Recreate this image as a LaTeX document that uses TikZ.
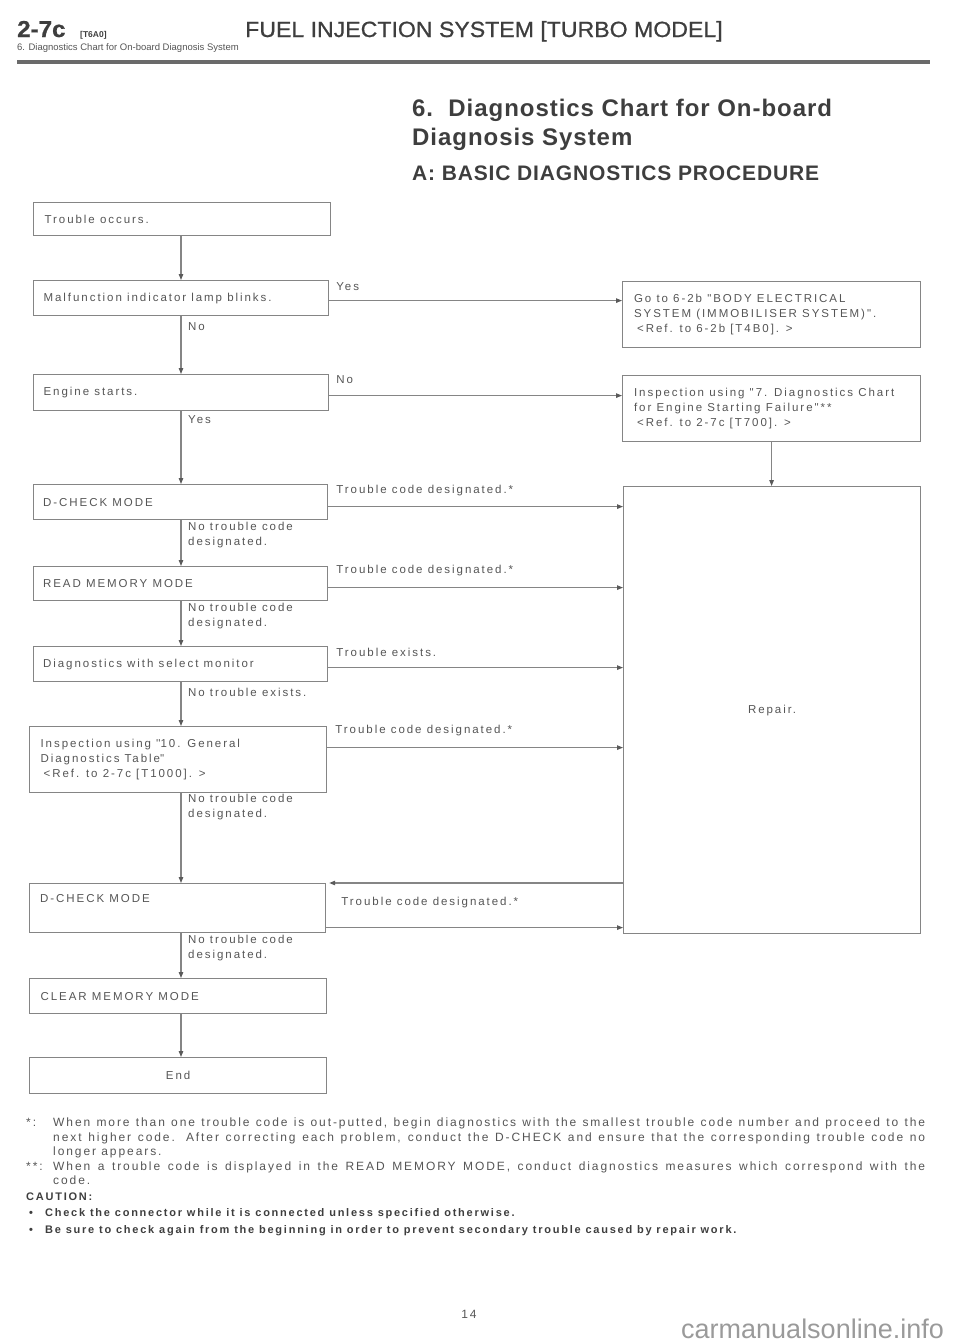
\documentclass[tikz,border=0pt]{standalone}
\usepackage{fontspec}
\setmainfont{Liberation Sans}
\newfontfamily\bxf[LetterSpace=17]{Liberation Sans}
\newfontfamily\fnf[LetterSpace=16]{Liberation Sans}
\newfontfamily\bxbf[LetterSpace=16]{Liberation Sans}
\newfontfamily\hdf[LetterSpace=4]{Liberation Sans}
\newfontfamily\ttlf[FakeStretch=1.05,FakeBold=0.8]{Liberation Sans}
\usetikzlibrary{arrows.meta}
\definecolor{ink}{HTML}{555555}
\definecolor{inkdark}{HTML}{3E3E3E}
\definecolor{wire}{HTML}{858585}
\definecolor{tipc}{HTML}{5A5A5A}
\definecolor{mark}{HTML}{9A9A9A}
\newcommand{\bl}[1]{\makebox[275pt][l]{#1}}
\begin{document}
\begin{tikzpicture}[x=1pt,y=-1pt,
  box/.style={draw=wire, line width=1.2pt, rectangle, anchor=north west,
    inner xsep=0pt, inner ysep=0pt, align=left, text=ink,
    font=\bxf\fontsize{11.5}{15}\selectfont},
  lbl/.style={text=ink, font=\bxf\fontsize{11.5}{15}\selectfont,
    inner sep=0pt, anchor=west, align=left},
  fn/.style={text=ink, font=\fnf\fontsize{12}{15}\selectfont,
    inner sep=0pt, anchor=base west},
  fnb/.style={text=inkdark, font=\bxbf\bfseries\fontsize{11}{15}\selectfont,
    inner sep=0pt, anchor=base west},
  arr/.style={draw=wire, line width=1.1pt,
    -{Triangle[length=6pt,width=4.5pt,color=tipc]}},
  head/.style={text=inkdark, inner sep=0pt, anchor=base west}]
\useasboundingbox (0,0) rectangle (960,1344);

% header
\node[head, font=\ttlf\bfseries\fontsize{23}{26}\selectfont] (sec) at (17,37) {2-7c};
\node[head, font=\bfseries\fontsize{8.5}{10}\selectfont] (code) at (80,37) {[T6A0]};
\node[head, font=\ttlf\fontsize{22}{26}\selectfont] (ttl) at (245,37) {FUEL INJECTION SYSTEM [TURBO MODEL]};
\node[head, font=\fontsize{9.5}{11}\selectfont, text=ink] (sub) at (17,50) {6. Diagnostics Chart for On-board Diagnosis System};
\fill[wire!80!black] (17,60) rectangle (930,64);

% heading
\node[head, font=\hdf\bfseries\fontsize{24}{28}\selectfont] (h1) at (412,116) {6.\ \ Diagnostics Chart for On-board};
\node[head, font=\hdf\bfseries\fontsize{24}{28}\selectfont] (h2) at (412,145) {Diagnosis System};
\node[head, font=\hdf\bfseries\fontsize{21}{24}\selectfont] (h3) at (412,180) {A: BASIC DIAGNOSTICS PROCEDURE};

% left column
\node[box, minimum width=297pt, minimum height=33pt] (n1) at (33,202) {\bl{Trouble occurs.}};
\node[box, minimum width=295pt, minimum height=35pt] (n2) at (33,280) {\bl{Malfunction indicator lamp blinks.}};
\node[box, minimum width=295pt, minimum height=36pt] (n3) at (33,374) {\bl{Engine starts.}};
\node[box, minimum width=294pt, minimum height=35pt] (n4) at (33,484) {\bl{D-CHECK MODE}};
\node[box, minimum width=294pt, minimum height=34pt] (n5) at (33,566) {\bl{READ MEMORY MODE}};
\node[box, minimum width=294pt, minimum height=35pt] (n6) at (33,646) {\bl{Diagnostics with select monitor}};
\node[box, minimum width=297pt, minimum height=66pt] (n7) at (29,726) {\bl{Inspection using \textquotesingle\textquotesingle10. General}\\\bl{Diagnostics Table\textquotesingle\textquotesingle}\\\bl{\hspace*{3pt}<Ref. to 2-7c [T1000]. >}};
\node[box, minimum width=296pt, minimum height=49pt] (n8) at (29,883) {\bl{D-CHECK MODE}\\\bl{\strut}};
\node[box, minimum width=297pt, minimum height=35pt] (n9) at (29,978) {\bl{CLEAR MEMORY MODE}};
\node[box, minimum width=297pt, minimum height=36pt, align=center] (n10) at (29,1057) {End};

% right column
\node[box, minimum width=298pt, minimum height=66pt] (r1) at (622,281) {\bl{Go to 6-2b "BODY ELECTRICAL}\\\bl{SYSTEM (IMMOBILISER SYSTEM)".}\\\bl{\hspace*{3pt}<Ref. to 6-2b [T4B0]. >}};
\node[box, minimum width=298pt, minimum height=66pt] (r2) at (622,375) {\bl{Inspection using "7. Diagnostics Chart}\\\bl{for Engine Starting Failure"**}\\\bl{\hspace*{3pt}<Ref. to 2-7c [T700]. >}};
\node[box, minimum width=297pt, minimum height=447pt, align=center] (r3) at (623,486) {Repair.};

% spine
\coordinate (sp) at (181,0);
\draw[arr] (n1.south -| sp) -- (n2.north -| sp);
\draw[arr] (n2.south -| sp) -- (n3.north -| sp);
\draw[arr] (n3.south -| sp) -- (n4.north -| sp);
\draw[arr] (n4.south -| sp) -- (n5.north -| sp);
\draw[arr] (n5.south -| sp) -- (n6.north -| sp);
\draw[arr] (n6.south -| sp) -- (n7.north -| sp);
\draw[arr] (n7.south -| sp) -- (n8.north -| sp);
\draw[arr] (n8.south -| sp) -- (n9.north -| sp);
\draw[arr] (n9.south -| sp) -- (n10.north -| sp);
\draw[arr] (r2.south) -- (r2.south |- r3.north);

% branches
\draw[arr] ([yshift=-2.5pt]n2.east) -- ([yshift=-2.5pt]n2.east -| r1.west);
\draw[arr] ([yshift=-3pt]n3.east) -- ([yshift=-3pt]n3.east -| r2.west);
\draw[arr] ([yshift=-4.5pt]n4.east) -- ([yshift=-4.5pt]n4.east -| r3.west);
\draw[arr] ([yshift=-4pt]n5.east) -- ([yshift=-4pt]n5.east -| r3.west);
\draw[arr] ([yshift=-3.5pt]n6.east) -- ([yshift=-3.5pt]n6.east -| r3.west);
\draw[arr] ([yshift=12pt]n7.east) -- ([yshift=12pt]n7.east -| r3.west);
\draw[arr] (n8.north east -| r3.west) -- ([xshift=3pt]n8.north east);
\draw[arr] ([yshift=-19.5pt]n8.east) -- ([yshift=-19.5pt]n8.east -| r3.west);

% branch labels
\node[lbl] (l2) at ([xshift=7pt,yshift=-7pt]n2.north east) {Yes};
\node[lbl] (l3) at ([xshift=7pt,yshift=-6pt]n3.north east) {No};
\node[lbl] (l4) at ([xshift=8pt,yshift=-7pt]n4.north east) {Trouble code designated.*};
\node[lbl] (l5) at ([xshift=8pt,yshift=-5pt]n5.north east) {Trouble code designated.*};
\node[lbl] (l6) at ([xshift=8pt,yshift=-6pt]n6.north east) {Trouble exists.};
\node[lbl] (l7) at ([xshift=8pt,yshift=-5pt]n7.north east) {Trouble code designated.*};
\node[lbl] (l8) at ([xshift=15pt,yshift=-20pt]n8.north east) {Trouble code designated.*};

% down labels
\node[lbl] (d2) at (188,327) {No};
\node[lbl] (d3) at (188,420) {Yes};
\node[lbl] (d4) at (188,535.5) {No trouble code\\designated.};
\node[lbl] (d5) at (188,616) {No trouble code\\designated.};
\node[lbl] (d6) at (188,692) {No trouble exists.};
\node[lbl] (d7) at (188,807.5) {No trouble code\\designated.};
\node[lbl] (d8) at (188,948.5) {No trouble code\\designated.};

% footnotes
\node[fn] (s1) at (26,1126) {*:};
\node[fn] (t1a) at (53,1126) {\makebox[872pt][s]{When more than one trouble code is out-putted, begin diagnostics with the smallest trouble code number and proceed to the}};
\node[fn] (t1b) at (53,1141) {\makebox[872pt][s]{next higher code. After correcting each problem, conduct the D-CHECK and ensure that the corresponding trouble code no}};
\node[fn] (t1c) at (53,1155) {longer appears.};
\node[fn] (s2) at (26,1170) {**:};
\node[fn] (t2a) at (53,1170) {\makebox[872pt][s]{When a trouble code is displayed in the READ MEMORY MODE, conduct diagnostics measures which correspond with the}};
\node[fn] (t2b) at (53,1184) {code.};
\node[fnb] (cau) at (26,1200) {CAUTION:};
\node[fnb] (b1) at (29,1216) {•};
\node[fnb] (c1) at (45,1216) {Check the connector while it is connected unless specified otherwise.};
\node[fnb] (b2) at (29,1233) {•};
\node[fnb] (c2) at (45,1233) {Be sure to check again from the beginning in order to prevent secondary trouble caused by repair work.};

% page number and mark
\node[fn, anchor=base] (pg) at (469,1318) {14};
\node[anchor=base west, inner sep=0pt, text=mark, font=\fontsize{27}{30}\selectfont] (wm) at (681,1338) {carmanualsonline.info};
\end{tikzpicture}
\end{document}
